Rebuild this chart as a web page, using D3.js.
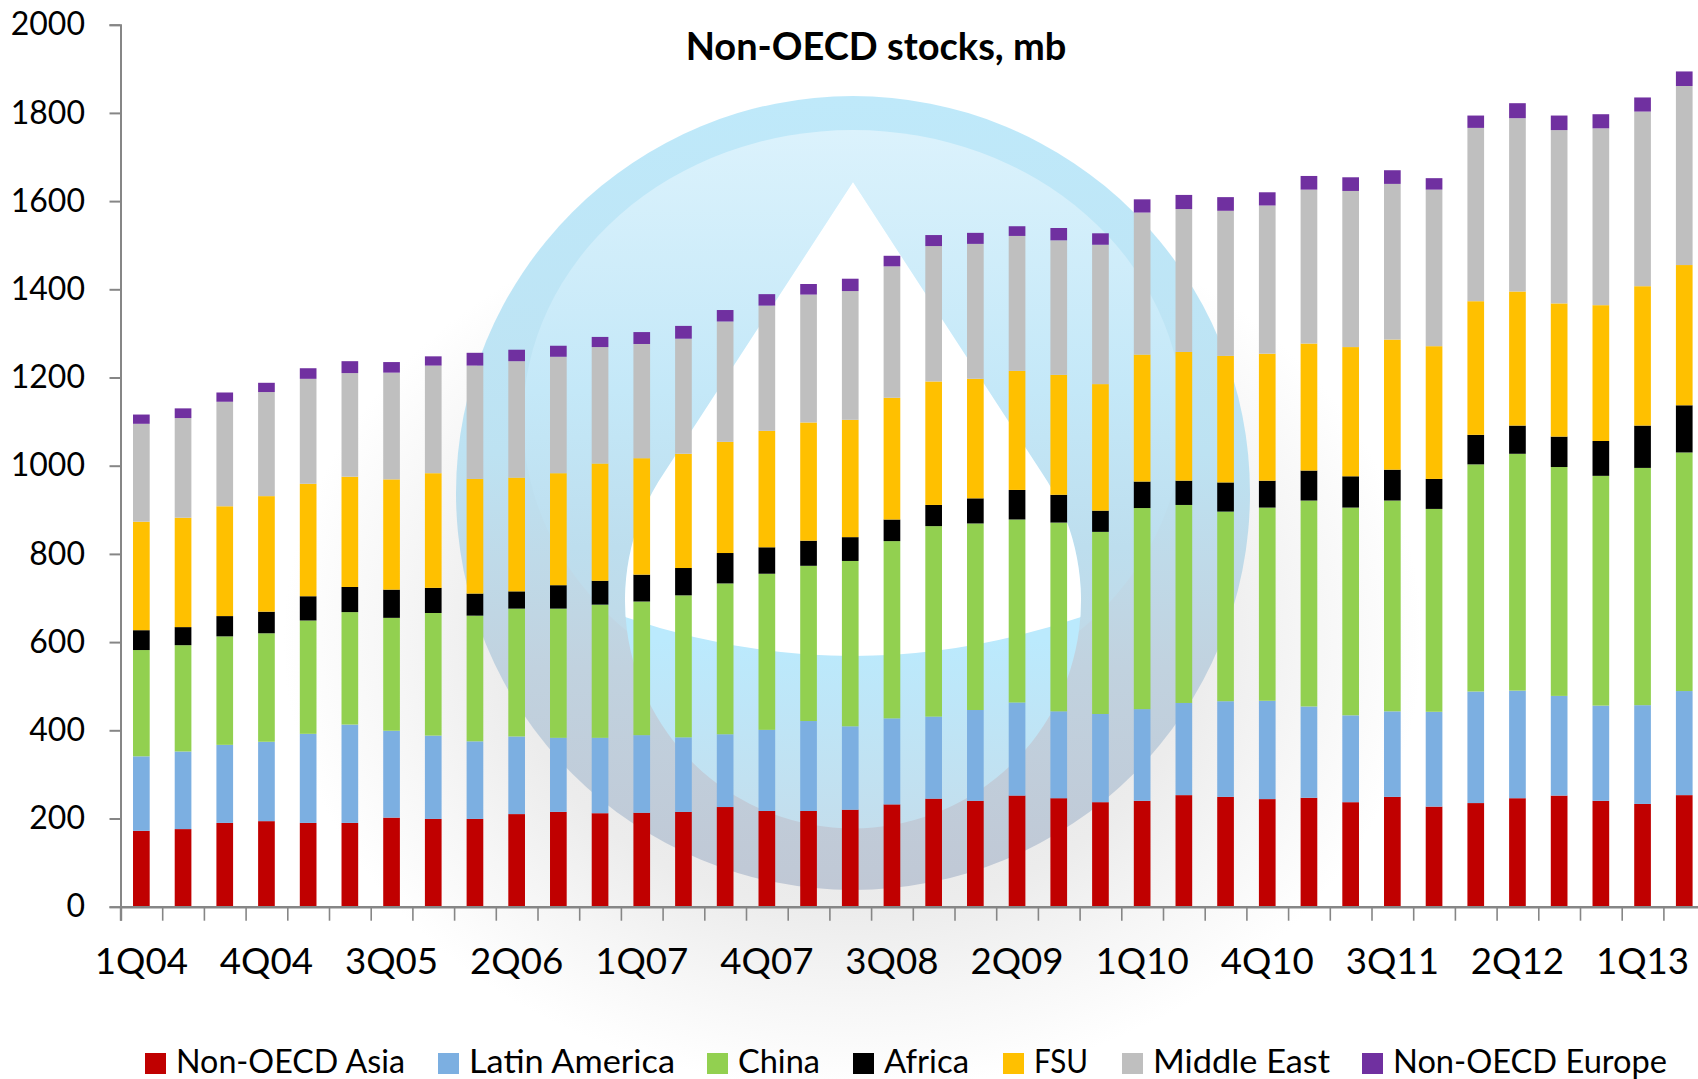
<!DOCTYPE html>
<html><head><meta charset="utf-8">
<script src="https://cdn.jsdelivr.net/npm/d3@7/dist/d3.min.js"></script>
<style>html,body{margin:0;padding:0;background:#fff;overflow:hidden}svg{display:block}text{font-family:Lato,"Open Sans",sans-serif;fill:#000}</style>
</head><body><svg id="c" width="1698" height="1079"></svg>
<script>
const years=["04","05","06","07","08","09","10","11","12","13"];
const categories=[];
years.forEach(y=>[1,2,3,4].forEach(q=>categories.push(q+"Q"+y)));
categories.length=38;
const seriesNames=["Non-OECD Asia","Latin America","China","Africa","FSU","Middle East","Non-OECD Europe"];
const seriesColors=["#C00000","#7CAFE1","#92D050","#000000","#FFC000","#BFBFBF","#7030A0"];
const nonOecdAsia=[172,176,190,194,190,190,202,199,199,210,215,212,213,215,226,217,217,220,232,245,240,252,246,237,240,253,249,244,247,237,249,227,235,246,252,240,233,253];
const latinAmerica=[169,176,177,180,202,223,197,189,176,176,168,171,176,169,165,184,204,189,195,186,206,211,197,200,208,209,217,223,207,197,194,215,253,244,226,216,224,236];
const china=[241,241,246,246,257,255,256,278,285,290,293,302,303,322,342,354,352,375,402,432,423,415,428,413,456,449,430,438,467,471,478,460,515,537,519,521,538,541];
const africa=[45,41,46,49,55,57,64,57,50,39,53,54,61,62,69,60,57,54,49,48,57,67,63,48,60,55,66,61,68,71,70,68,67,64,69,79,96,107];
const fsu=[246,248,249,262,255,250,250,260,260,258,254,266,264,259,252,264,268,266,276,280,271,270,272,287,288,292,287,288,288,293,295,301,303,304,302,308,316,318];
const middleEast=[222,226,237,236,238,235,242,244,257,264,264,264,259,261,273,284,290,292,298,307,306,306,305,316,322,324,329,336,349,354,353,355,393,393,393,401,396,406];
const nonOecdEurope=[21,22,21,21,24,27,24,21,29,26,25,23,27,29,26,26,24,28,24,25,25,22,28,26,30,32,31,30,31,31,31,26,28,34,33,32,32,33];
const seriesValues=[nonOecdAsia,latinAmerica,china,africa,fsu,middleEast,nonOecdEurope];
const yTicks=[0,200,400,600,800,1000,1200,1400,1600,1800,2000];
const chartTitle="Non-OECD stocks, mb";

const rows=categories.map((c,i)=>{const r={cat:c};seriesNames.forEach((s,k)=>r[s]=seriesValues[k][i]);return r;});
const svg=d3.select("#c");
const defs=svg.append("defs");
function grad(id,stops,x){const g=defs.append("linearGradient").attr("id",id).attr("gradientUnits","userSpaceOnUse").attr("x1",0).attr("x2",0).attr("y1",x[0]).attr("y2",x[1]);stops.forEach(s=>g.append("stop").attr("offset",s[0]).attr("stop-color",s[1]));}
grad("outer",[[0,"#bfe9fa"],[.45,"#bde2f2"],[.72,"#c1d2df"],[1,"#c0c8d5"]],[97,890]);
grad("inner",[[0,"#dbf2fc"],[.45,"#c4e8f8"],[.72,"#bddeee"],[1,"#c2d6e3"]],[130,710]);
grad("dropg",[[0,"#bbeafd"],[1,"#c3deed"]],[640,825]);
const rg=defs.append("radialGradient").attr("id","glow");
rg.append("stop").attr("offset",0).attr("stop-color","#e2e2e2");
rg.append("stop").attr("offset",.6).attr("stop-color","#ececec");
rg.append("stop").attr("offset",.8).attr("stop-color","#f6f6f6");
rg.append("stop").attr("offset",1).attr("stop-color","#ffffff");
defs.append("clipPath").attr("id","dropclip").append("path").attr("d","M853,182 L664,473 A228,228 0 1,0 1042,473 Z");

const logo=svg.append("g");
logo.append("ellipse").attr("cx",853).attr("cy",640).attr("rx",570).attr("ry",450).attr("fill","url(#glow)");
logo.append("circle").attr("cx",853).attr("cy",493).attr("r",397).attr("fill","url(#outer)");
logo.append("ellipse").attr("cx",853).attr("cy",420).attr("rx",330).attr("ry",290).attr("fill","url(#inner)");
logo.append("path").attr("d","M853,182 L664,473 A228,228 0 1,0 1042,473 Z").attr("fill","url(#dropg)");
logo.append("path").attr("clip-path","url(#dropclip)").attr("d","M600,100 H1110 V607 L1081,617 Q853,695 625,617 L600,607 Z").attr("fill","#fff");

const x0=120.5, step=41.7;
const x=d3.scaleBand().domain(categories).range([x0,x0+step*categories.length]).paddingInner(.6).paddingOuter(.3);
const y=d3.scaleLinear().domain([0,2000]).range([906.7,24.7]);
const stacked=d3.stack().keys(seriesNames)(rows);
svg.append("g").selectAll("g").data(stacked).join("g").attr("fill",(d,i)=>seriesColors[i])
 .selectAll("rect").data(d=>d).join("rect")
 .attr("x",d=>x(d.data.cat)).attr("width",x.bandwidth())
 .attr("y",d=>y(d[1])).attr("height",d=>y(d[0])-y(d[1]));

const axisColor="#868686";
const gy=svg.append("g").attr("transform",`translate(${x0},0)`)
 .call(d3.axisLeft(y).tickValues(yTicks).tickSize(11).tickPadding(24.5).tickFormat(d3.format("d")));
gy.selectAll("line,path").attr("stroke",axisColor).attr("stroke-width",2);
gy.selectAll("text").attr("font-size",32).attr("font-family","Lato").attr("fill","#000");

const xIdx=d3.scaleLinear().domain([0,categories.length]).range(x.range());
const gx=svg.append("g").attr("transform",`translate(0,${y(0)})`)
 .call(d3.axisBottom(xIdx).tickValues(d3.range(categories.length+1)).tickSize(14).tickSizeOuter(14).tickFormat(""));
gx.selectAll("line").attr("stroke",axisColor).attr("stroke-width",1.6);
gx.select("path").attr("stroke",axisColor).attr("stroke-width",2.4);

svg.append("g").selectAll("text").data(categories.filter((c,i)=>i%3===0)).join("text")
 .attr("x",d=>x(d)+x.bandwidth()/2).attr("y",974).attr("text-anchor","middle")
 .attr("font-size",36.7).text(d=>d);

svg.append("text").attr("x",876).attr("y",60).attr("text-anchor","middle").attr("font-size",38).attr("font-weight",700).text(chartTitle);

const legendSwatchX=[145,438,707,853,1003,1122,1362];
const legendTextWidths=[229,206,82,85,54,177,274];
const leg=svg.append("g").selectAll("g").data(seriesNames).join("g").attr("transform",(d,i)=>`translate(${legendSwatchX[i]},1053)`);
leg.append("rect").attr("width",21).attr("height",21).attr("fill",(d,i)=>seriesColors[i]);
leg.append("text").attr("x",31).attr("y",20).attr("font-size",33).attr("textLength",(d,i)=>legendTextWidths[i]).attr("lengthAdjust","spacingAndGlyphs").text(d=>d);
</script></body></html>
